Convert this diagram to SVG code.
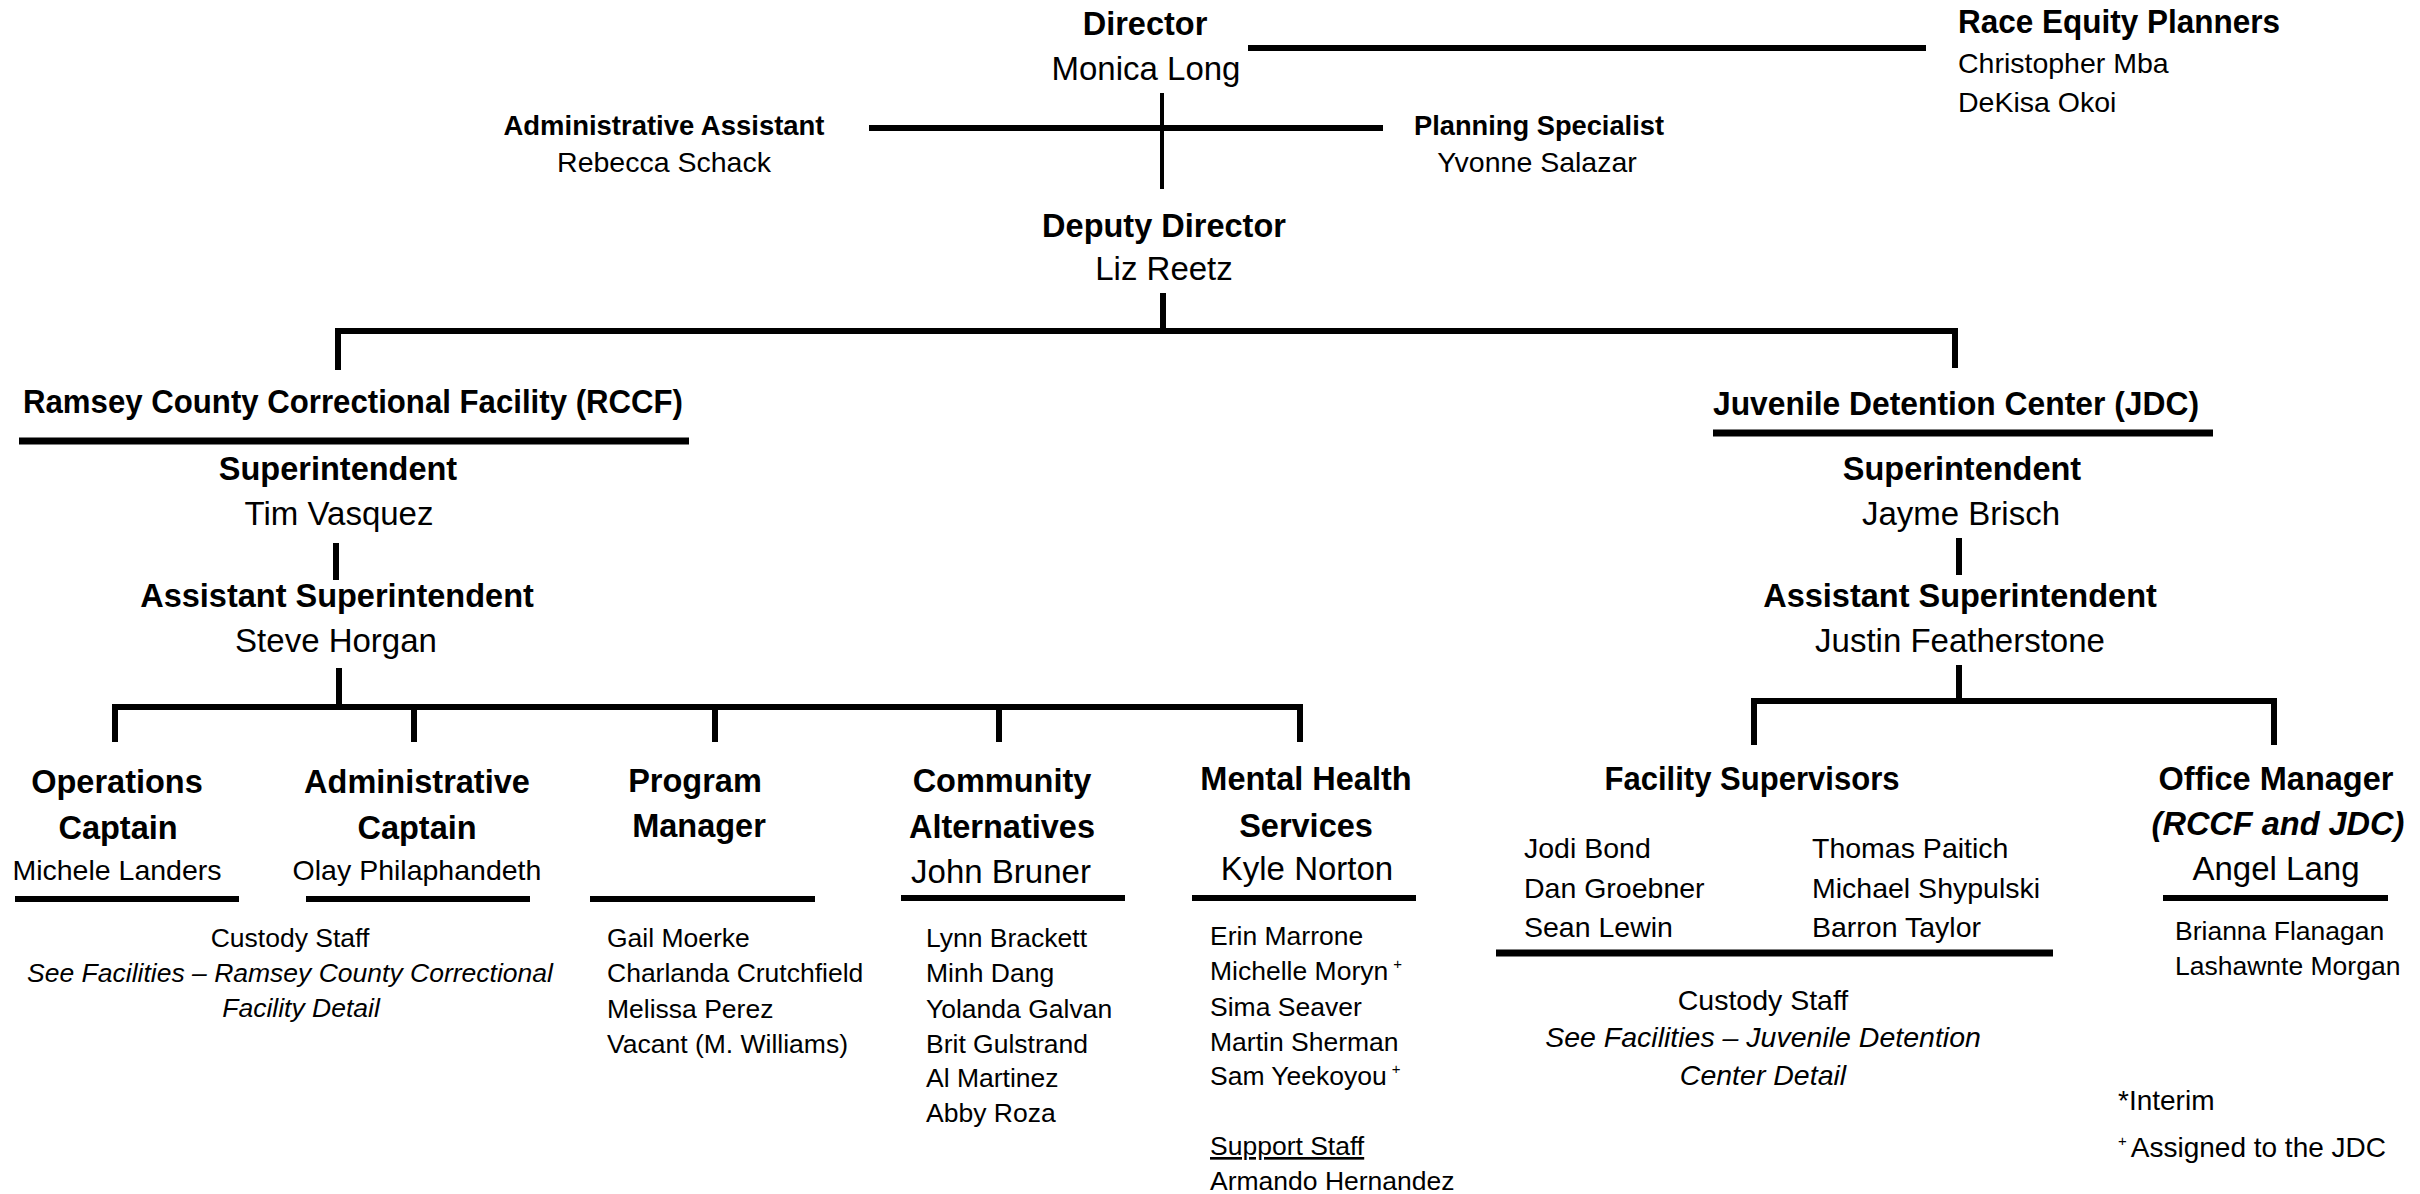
<svg xmlns="http://www.w3.org/2000/svg" width="2420" height="1194" viewBox="0 0 2420 1194">
<style>
text{font-family:"Liberation Sans",Arial,sans-serif;fill:#000}
.t{font-size:32.5px;font-weight:bold;text-anchor:middle}
.tl{font-size:32.5px;font-weight:bold}
.n{font-size:33px;text-anchor:middle}
.s{font-size:28.5px;text-anchor:middle}
.sb{font-size:28px;font-weight:bold;text-anchor:middle}
.sl{font-size:28.5px}
.x{font-size:26.5px}
.xc{font-size:26.5px;text-anchor:middle}
.lg{font-size:28px}
.i{font-style:italic}
.sup{font-size:15px}
.c line{stroke:#000;stroke-width:6;stroke-linecap:butt}
</style>
<rect width="2420" height="1194" fill="#fff"/>
<g class="c" id="connectors">
<line x1="1248" y1="48" x2="1926" y2="48"/>
<line x1="1162" y1="93" x2="1162" y2="189" style="stroke-width:4"/>
<line x1="869" y1="128" x2="1383" y2="128"/>
<line x1="1163" y1="293" x2="1163" y2="331"/>
<line x1="335" y1="331" x2="1958" y2="331"/>
<line x1="338" y1="328" x2="338" y2="370"/>
<line x1="1955" y1="328" x2="1955" y2="368"/>
<line x1="19" y1="441" x2="689" y2="441" style="stroke-width:7"/>
<line x1="1713" y1="433" x2="2213" y2="433" style="stroke-width:7"/>
<line x1="336" y1="543" x2="336" y2="580"/>
<line x1="339" y1="668" x2="339" y2="707"/>
<line x1="112" y1="707" x2="1303" y2="707"/>
<line x1="115" y1="704" x2="115" y2="742"/>
<line x1="414" y1="707" x2="414" y2="742"/>
<line x1="715" y1="707" x2="715" y2="742"/>
<line x1="999" y1="707" x2="999" y2="742"/>
<line x1="1300" y1="704" x2="1300" y2="742"/>
<line x1="15" y1="899" x2="239" y2="899"/>
<line x1="306" y1="899" x2="530" y2="899"/>
<line x1="590" y1="899" x2="815" y2="899"/>
<line x1="901" y1="898" x2="1125" y2="898"/>
<line x1="1192" y1="898" x2="1416" y2="898"/>
<line x1="1959" y1="538" x2="1959" y2="575"/>
<line x1="1959" y1="665" x2="1959" y2="701"/>
<line x1="1751" y1="701" x2="2277" y2="701"/>
<line x1="1754" y1="698" x2="1754" y2="745"/>
<line x1="2274" y1="698" x2="2274" y2="745"/>
<line x1="1496" y1="953" x2="2053" y2="953" style="stroke-width:7"/>
<line x1="2163" y1="898" x2="2388" y2="898"/>
</g>
<g id="director">
<text class="t" x="1145" y="35">Director</text>
<text class="n" x="1146" y="80">Monica Long</text>
</g>
<g id="race-equity">
<text class="tl" x="1958" y="33" textLength="322" lengthAdjust="spacingAndGlyphs">Race Equity Planners</text>
<text class="sl" x="1958" y="73">Christopher Mba</text>
<text class="sl" x="1958" y="112">DeKisa Okoi</text>
</g>
<g id="admin-assistant">
<text class="sb" x="664" y="135" textLength="321" lengthAdjust="spacingAndGlyphs">Administrative Assistant</text>
<text class="s" x="664" y="172">Rebecca Schack</text>
</g>
<g id="planning-specialist">
<text class="sb" x="1539" y="135" textLength="250" lengthAdjust="spacingAndGlyphs">Planning Specialist</text>
<text class="s" x="1537" y="172">Yvonne Salazar</text>
</g>
<g id="deputy-director">
<text class="t" x="1164" y="237">Deputy Director</text>
<text class="n" x="1164" y="280">Liz Reetz</text>
</g>
<g id="rccf">
<text class="t" x="353" y="413" textLength="660" lengthAdjust="spacingAndGlyphs">Ramsey County Correctional Facility (RCCF)</text>
</g>
<g id="jdc">
<text class="t" x="1956" y="415" textLength="486" lengthAdjust="spacingAndGlyphs">Juvenile Detention Center (JDC)</text>
</g>
<g id="rccf-superintendent">
<text class="t" x="338" y="480">Superintendent</text>
<text class="n" x="339" y="525">Tim Vasquez</text>
</g>
<g id="rccf-assistant">
<text class="t" x="337" y="607">Assistant Superintendent</text>
<text class="n" x="336" y="652">Steve Horgan</text>
</g>
<g id="jdc-superintendent">
<text class="t" x="1962" y="480">Superintendent</text>
<text class="n" x="1961" y="525">Jayme Brisch</text>
</g>
<g id="jdc-assistant">
<text class="t" x="1960" y="607">Assistant Superintendent</text>
<text class="n" x="1960" y="652">Justin Featherstone</text>
</g>
<g id="operations-captain">
<text class="t" x="117" y="793">Operations</text>
<text class="t" x="118" y="839">Captain</text>
<text class="s" x="117" y="880">Michele Landers</text>
</g>
<g id="administrative-captain">
<text class="t" x="417" y="793">Administrative</text>
<text class="t" x="417" y="839">Captain</text>
<text class="s" x="417" y="880">Olay Philaphandeth</text>
</g>
<g id="rccf-custody">
<text class="xc" x="290" y="947">Custody Staff</text>
<text class="xc i" x="290" y="982">See Facilities – Ramsey County Correctional</text>
<text class="xc i" x="301" y="1017">Facility Detail</text>
</g>
<g id="program-manager">
<text class="t" x="695" y="792">Program</text>
<text class="t" x="699" y="837">Manager</text>
<text class="x" x="607" y="947">Gail Moerke</text>
<text class="x" x="607" y="982">Charlanda Crutchfield</text>
<text class="x" x="607" y="1018">Melissa Perez</text>
<text class="x" x="607" y="1053">Vacant (M. Williams)</text>
</g>
<g id="community-alternatives">
<text class="t" x="1002" y="792">Community</text>
<text class="t" x="1002" y="838">Alternatives</text>
<text class="n" x="1001" y="883">John Bruner</text>
<text class="x" x="926" y="947">Lynn Brackett</text>
<text class="x" x="926" y="982">Minh Dang</text>
<text class="x" x="926" y="1018">Yolanda Galvan</text>
<text class="x" x="926" y="1053">Brit Gulstrand</text>
<text class="x" x="926" y="1087">Al Martinez</text>
<text class="x" x="926" y="1122">Abby Roza</text>
</g>
<g id="mental-health">
<text class="t" x="1306" y="790">Mental Health</text>
<text class="t" x="1306" y="837">Services</text>
<text class="n" x="1307" y="880">Kyle Norton</text>
<text class="x" x="1210" y="945">Erin Marrone</text>
<text class="x" x="1210" y="980">Michelle Moryn<tspan class="sup" dx="5" dy="-11">+</tspan></text>
<text class="x" x="1210" y="1016">Sima Seaver</text>
<text class="x" x="1210" y="1051">Martin Sherman</text>
<text class="x" x="1210" y="1085">Sam Yeekoyou<tspan class="sup" dx="5" dy="-11">+</tspan></text>
<text class="x" x="1210" y="1155" text-decoration="underline">Support Staff</text>
<text class="x" x="1210" y="1190">Armando Hernandez</text>
</g>
<g id="facility-supervisors">
<text class="t" x="1752" y="790" textLength="295" lengthAdjust="spacingAndGlyphs">Facility Supervisors</text>
<text class="sl" x="1524" y="858">Jodi Bond</text>
<text class="sl" x="1524" y="898">Dan Groebner</text>
<text class="sl" x="1524" y="937">Sean Lewin</text>
<text class="sl" x="1812" y="858">Thomas Paitich</text>
<text class="sl" x="1812" y="898">Michael Shypulski</text>
<text class="sl" x="1812" y="937">Barron Taylor</text>
</g>
<g id="jdc-custody">
<text class="s" x="1763" y="1010">Custody Staff</text>
<text class="s i" x="1763" y="1047">See Facilities – Juvenile Detention</text>
<text class="s i" x="1763" y="1085">Center Detail</text>
</g>
<g id="office-manager">
<text class="t" x="2276" y="790">Office Manager</text>
<text class="t i" x="2278" y="835">(RCCF and JDC)</text>
<text class="n" x="2276" y="880">Angel Lang</text>
<text class="x" x="2175" y="940">Brianna Flanagan</text>
<text class="x" x="2175" y="975">Lashawnte Morgan</text>
</g>
<g id="legend">
<text class="lg" x="2118" y="1110">*Interim</text>
<text class="lg" x="2118" y="1157"><tspan class="sup" dy="-11">+</tspan><tspan dx="4" dy="11">Assigned to the JDC</tspan></text>
</g>
</svg>
